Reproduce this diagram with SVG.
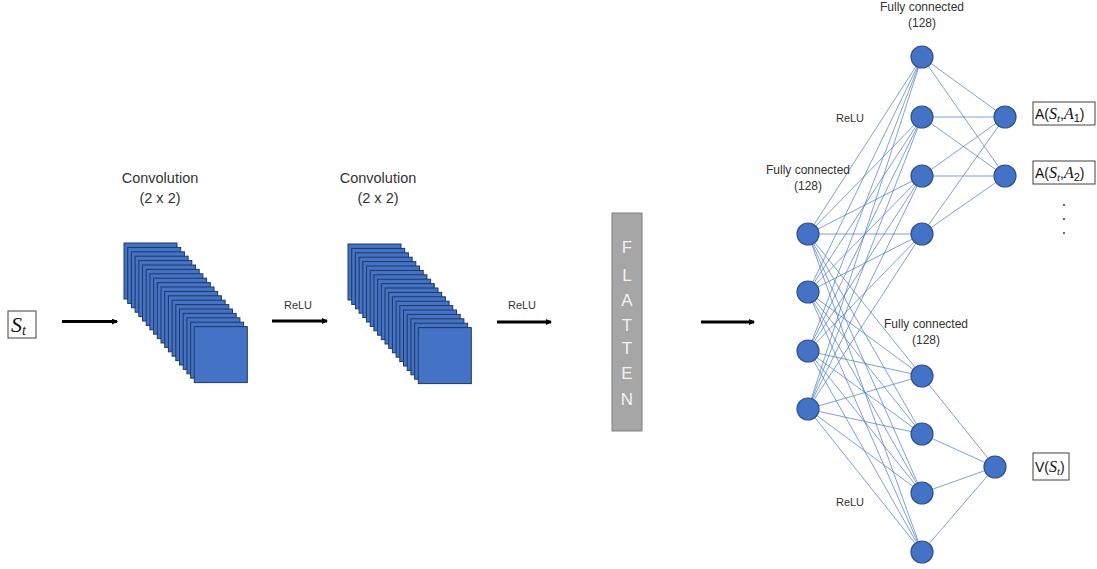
<svg xmlns="http://www.w3.org/2000/svg" xmlns:xlink="http://www.w3.org/1999/xlink" width="1097" height="569" viewBox="0 0 1097 569">
<style>
.t{font-family:"Liberation Sans","Open Sans",sans-serif;fill:#333;text-anchor:middle}
.lbl{font-size:12px}
.conv{font-size:14.5px}
.relu{font-size:11px}
.sq{fill:#4472c4;stroke:#1f3864;stroke-width:1}
.nd{fill:#4472c4;stroke:#2f528f;stroke-width:1.2}
.cn{stroke:#4472c4;stroke-width:0.8;stroke-opacity:0.85;fill:none}
.ar{stroke:#000;stroke-width:3;fill:none}
.box{fill:#fff;stroke:#404040;stroke-width:1}
.mt{font-family:"Liberation Sans","Open Sans",sans-serif;font-size:14px;fill:#111}
.mi{font-family:"Liberation Serif","DejaVu Serif",serif;font-style:italic}
.fl{font-family:"Liberation Sans","Open Sans",sans-serif;font-size:17px;fill:#f2f2f2;text-anchor:middle}
</style>
<defs>
<marker id="ah" viewBox="0 0 6 6" refX="5" refY="3" markerWidth="2" markerHeight="2" orient="auto">
<path d="M0,0 L6,3 L0,6 z" fill="#000"/>
</marker>
<g id="stack">
<rect class="sq" x="0" y="0" width="53" height="56"/>
<rect class="sq" x="3.7" y="4.4" width="53" height="56"/>
<rect class="sq" x="7.4" y="8.8" width="53" height="56"/>
<rect class="sq" x="11.1" y="13.2" width="53" height="56"/>
<rect class="sq" x="14.8" y="17.6" width="53" height="56"/>
<rect class="sq" x="18.5" y="22" width="53" height="56"/>
<rect class="sq" x="22.2" y="26.4" width="53" height="56"/>
<rect class="sq" x="25.9" y="30.8" width="53" height="56"/>
<rect class="sq" x="29.6" y="35.2" width="53" height="56"/>
<rect class="sq" x="33.3" y="39.6" width="53" height="56"/>
<rect class="sq" x="37" y="44" width="53" height="56"/>
<rect class="sq" x="40.7" y="48.4" width="53" height="56"/>
<rect class="sq" x="44.4" y="52.8" width="53" height="56"/>
<rect class="sq" x="48.1" y="57.2" width="53" height="56"/>
<rect class="sq" x="51.8" y="61.6" width="53" height="56"/>
<rect class="sq" x="55.5" y="66" width="53" height="56"/>
<rect class="sq" x="59.2" y="70.4" width="53" height="56"/>
<rect class="sq" x="62.9" y="74.8" width="53" height="56"/>
<rect class="sq" x="66.6" y="79.2" width="53" height="56"/>
<rect class="sq" x="70.3" y="83.6" width="53" height="56"/>
</g>
</defs>
<rect width="1097" height="569" fill="#fff"/>

<g id="input">
<rect class="box" x="8" y="311" width="28" height="27"/>
<text x="11" y="332" font-family="Liberation Serif,serif" font-style="italic" font-size="22" fill="#111">S<tspan font-size="14" dy="3">t</tspan></text>
</g>

<g id="conv1">
<text class="t conv" x="160" y="183">Convolution</text>
<text class="t conv" x="160" y="203">(2 x 2)</text>
<use xlink:href="#stack" href="#stack" x="124" y="243"/>
</g>

<g id="conv2">
<text class="t conv" x="378" y="183">Convolution</text>
<text class="t conv" x="378" y="203">(2 x 2)</text>
<use xlink:href="#stack" href="#stack" x="348" y="244"/>
</g>

<g id="flatten">
<rect x="612" y="213" width="30" height="218" fill="#a6a6a6" stroke="#7f7f7f" stroke-width="1"/>
<text class="fl" x="627" y="253">F</text>
<text class="fl" x="627" y="281">L</text>
<text class="fl" x="627" y="306">A</text>
<text class="fl" x="627" y="331">T</text>
<text class="fl" x="627" y="354">T</text>
<text class="fl" x="627" y="379">E</text>
<text class="fl" x="627" y="405">N</text>
</g>

<g id="connectors">
<line class="ar" x1="62" y1="321.5" x2="117" y2="321.5" marker-end="url(#ah)"/>
<line class="ar" x1="272" y1="321" x2="327" y2="321" marker-end="url(#ah)"/>
<line class="ar" x1="497" y1="322" x2="551" y2="322" marker-end="url(#ah)"/>
<line class="ar" x1="701" y1="322" x2="754" y2="322" marker-end="url(#ah)"/>
<g class="cn">
<path d="M808,234L922,57M808,234L922,117M808,234L922,176M808,234L922,234M808,234L922,376M808,234L922,434M808,234L922,493M808,234L922,552"/>
<path d="M808,292L922,57M808,292L922,117M808,292L922,176M808,292L922,234M808,292L922,376M808,292L922,434M808,292L922,493M808,292L922,552"/>
<path d="M808,351L922,57M808,351L922,117M808,351L922,176M808,351L922,234M808,351L922,376M808,351L922,434M808,351L922,493M808,351L922,552"/>
<path d="M808,409L922,57M808,409L922,117M808,409L922,176M808,409L922,234M808,409L922,376M808,409L922,434M808,409L922,493M808,409L922,552"/>
<path d="M922,57L1005,117M922,57L1005,176M922,117L1005,117M922,117L1005,176M922,176L1005,117M922,176L1005,176M922,234L1005,117M922,234L1005,176"/>
<path d="M922,376L995,467M922,434L995,467M922,493L995,467M922,552L995,467"/>
</g>
</g>

<g id="relu-labels">
<text class="t relu" x="298" y="309">ReLU</text>
<text class="t relu" x="522" y="309">ReLU</text>
<text class="t relu" x="850" y="122">ReLU</text>
<text class="t relu" x="850" y="506">ReLU</text>
</g>

<g id="fc-labels">
<text class="t lbl" x="922" y="11">Fully connected</text>
<text class="t lbl" x="922" y="27">(128)</text>
<text class="t lbl" x="808" y="174">Fully connected</text>
<text class="t lbl" x="808" y="190">(128)</text>
<text class="t lbl" x="926" y="328">Fully connected</text>
<text class="t lbl" x="926" y="344">(128)</text>
</g>

<g id="layer-in">
<circle class="nd" cx="808" cy="234" r="11"/>
<circle class="nd" cx="808" cy="292" r="11"/>
<circle class="nd" cx="808" cy="351" r="11"/>
<circle class="nd" cx="808" cy="409" r="11"/>
</g>
<g id="layer-adv">
<circle class="nd" cx="922" cy="57" r="11"/>
<circle class="nd" cx="922" cy="117" r="11"/>
<circle class="nd" cx="922" cy="176" r="11"/>
<circle class="nd" cx="922" cy="234" r="11"/>
</g>
<g id="layer-val">
<circle class="nd" cx="922" cy="376" r="11"/>
<circle class="nd" cx="922" cy="434" r="11"/>
<circle class="nd" cx="922" cy="493" r="11"/>
<circle class="nd" cx="922" cy="552" r="11"/>
</g>
<g id="out-a1">
<circle class="nd" cx="1005" cy="117" r="11"/>
<rect class="box" x="1033" y="102" width="62" height="23"/>
<text class="mt" x="1035" y="119">A(<tspan class="mi" font-size="16">S</tspan><tspan class="mi" font-size="11" dy="3">t</tspan><tspan dy="-3">,</tspan><tspan class="mi" font-size="16">A</tspan><tspan font-size="11" dy="3">1</tspan><tspan dy="-3">)</tspan></text>
</g>
<g id="out-a2">
<circle class="nd" cx="1005" cy="176" r="11"/>
<rect class="box" x="1033" y="161" width="62" height="23"/>
<text class="mt" x="1035" y="178">A(<tspan class="mi" font-size="16">S</tspan><tspan class="mi" font-size="11" dy="3">t</tspan><tspan dy="-3">,</tspan><tspan class="mi" font-size="16">A</tspan><tspan font-size="11" dy="3">2</tspan><tspan dy="-3">)</tspan></text>
<circle cx="1064" cy="205" r="0.9" fill="#222"/>
<circle cx="1064" cy="219" r="0.9" fill="#222"/>
<circle cx="1064" cy="233" r="0.9" fill="#222"/>
</g>
<g id="out-v">
<circle class="nd" cx="995" cy="467" r="11"/>
<rect class="box" x="1033" y="453" width="36" height="27"/>
<text class="mt" x="1035" y="472">V(<tspan class="mi" font-size="16">S</tspan><tspan class="mi" font-size="11" dy="3">t</tspan><tspan dy="-3">)</tspan></text>
</g>
</svg>
